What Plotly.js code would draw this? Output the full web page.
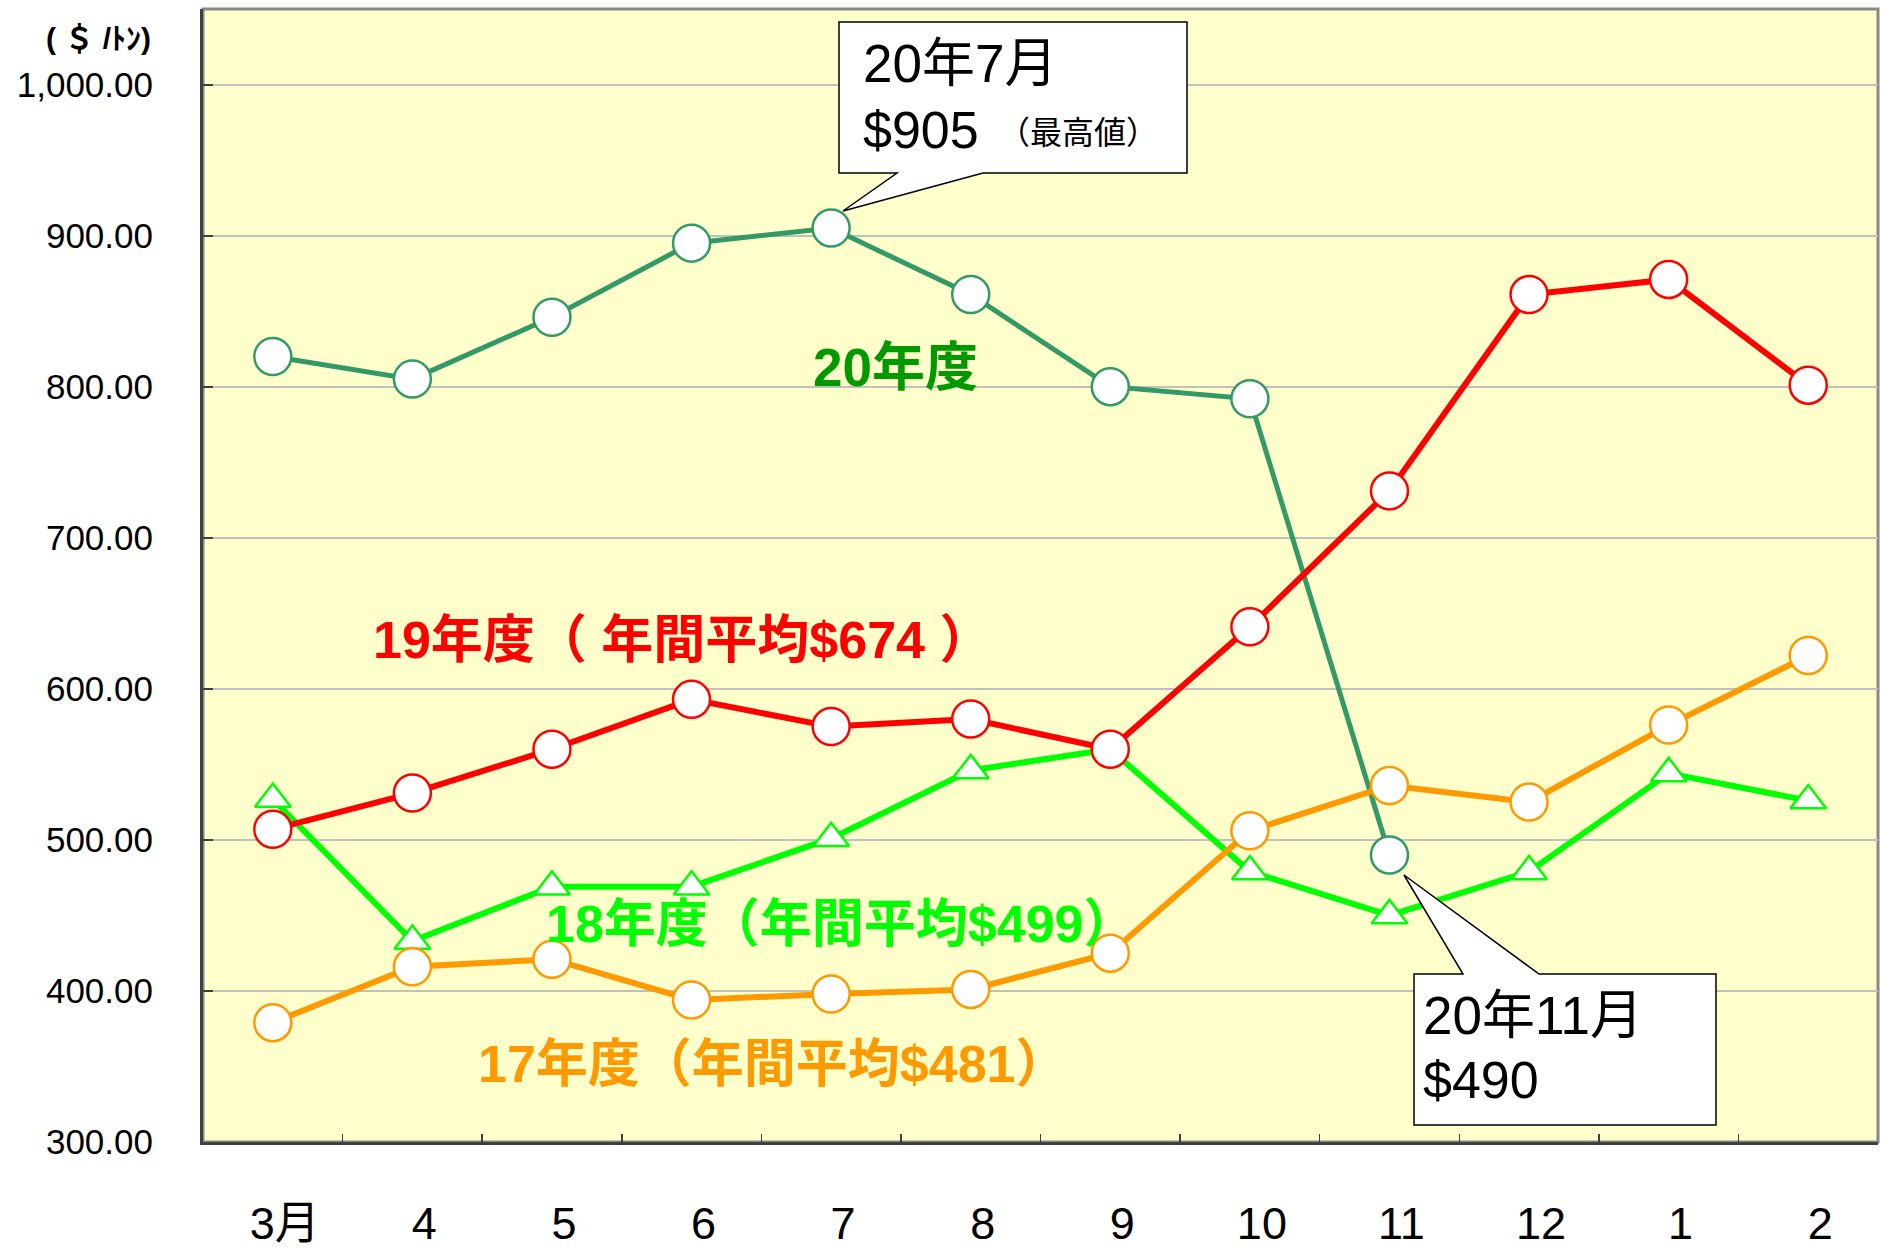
<!DOCTYPE html>
<html>
<head>
<meta charset="utf-8">
<script src="https://cdn.plot.ly/plotly-3.0.1.min.js"></script>
<style>
  html, body { margin: 0; padding: 0; background: #ffffff; }
  #chart { width: 1881px; height: 1249px; }
</style>
</head>
<body>
<div id="chart"></div>
<script>
// ---- data ----
const months = ['3月', '4', '5', '6', '7', '8', '9', '10', '11', '12', '1', '2'];
const fy17 = [379, 416, 421, 394, 398, 401, 425, 506, 536, 525, 576, 622];
const fy18 = [527, 433, 469, 469, 501, 546, 560, 479, 450, 479, 544, 526];
const fy19 = [507, 531, 560, 593, 575, 580, 560, 641, 731, 861, 871, 801];
const fy20 = [820, 805, 846, 895, 905, 861, 800, 792, 490, null, null, null];

const seriesNames = ['18年度', '20年度', '19年度', '17年度'];
const labelTexts = {
  fy20: '20年度',
  fy19: '19年度（ 年間平均$674 ）',
  fy18: '18年度（年間平均$499）',
  fy17: '17年度（年間平均$481）'
};
const unitText = '( ＄ /ﾄﾝ)';
const callout1 = ['20年7月', '$905', '（最高値）'];
const callout2 = ['20年11月', '$490'];

// ---- layout geometry ----
const W = 1881, H = 1249;
const M = { l: 203, r: 3, t: 9, b: 107 };
const PW = W - M.l - M.r, PH = H - M.t - M.b;
const px = x => (x - M.l) / PW;          // pixel -> paper x
const py = y => (H - M.b - y) / PH;      // pixel -> paper y

const FONT = 'Liberation Sans, Arial, Noto Sans CJK JP, sans-serif';

function circleTrace(name, y, color, lw) {
  return {
    type: 'scatter', mode: 'lines+markers', name: name,
    x: months, y: y,
    line: { color: color, width: lw },
    marker: { symbol: 'circle', size: 37, color: '#ffffff', line: { color: color, width: 2.5 } },
    hoverinfo: 'x+y', showlegend: false
  };
}

const traces = [
  {
    type: 'scatter', mode: 'lines+markers', name: seriesNames[0],
    x: months, y: fy18,
    line: { color: '#00ff00', width: 6 },
    marker: { symbol: 'triangle-up', size: 31, color: '#ffffff', line: { color: '#00ff00', width: 2.5 } },
    showlegend: false
  },
  circleTrace(seriesNames[1], fy20, '#339966', 5),
  circleTrace(seriesNames[2], fy19, '#ff0000', 6),
  circleTrace(seriesNames[3], fy17, '#ff9900', 6)
];

function poly(points) {
  return 'M ' + points.map(p => px(p[0]).toFixed(5) + ',' + py(p[1]).toFixed(5)).join(' L ') + ' Z';
}

const shapes = [
  // plot frame (top / right grey border)
  { type: 'rect', xref: 'paper', yref: 'paper', x0: 0, x1: 1, y0: 0, y1: 1,
    line: { color: '#888888', width: 3 }, layer: 'below' },
  // callout 1 (box + wedge)
  { type: 'path', xref: 'paper', yref: 'paper', layer: 'above',
    path: poly([[839, 22], [1187, 22], [1187, 173], [983, 173], [843, 211], [897, 173], [839, 173]]),
    fillcolor: '#ffffff', line: { color: '#000000', width: 1.5 } },
  // callout 2 (box + wedge)
  { type: 'path', xref: 'paper', yref: 'paper', layer: 'above',
    path: poly([[1414, 974], [1463, 974], [1404, 875], [1539, 974], [1716, 974], [1716, 1125], [1414, 1125]]),
    fillcolor: '#ffffff', line: { color: '#000000', width: 1.5 } }
];

function ann(text, x, y, size, color, opts) {
  return Object.assign({
    text: text, xref: 'paper', yref: 'paper', x: px(x), y: py(y),
    xanchor: 'center', yanchor: 'middle', showarrow: false,
    font: { family: FONT, size: size, color: color }
  }, opts || {});
}

const annotations = [
  ann('<b>' + unitText + '</b>', 98, 38, 30, '#000000'),
  ann('<b>' + labelTexts.fy20 + '</b>', 895, 367, 53, '#009900'),
  ann('<b>' + labelTexts.fy19 + '</b>', 682, 640, 52, '#ff0000'),
  ann('<b>' + labelTexts.fy18 + '</b>', 841, 924, 52, '#00ff00'),
  ann('<b>' + labelTexts.fy17 + '</b>', 773, 1064, 52, '#ff9900'),
  ann(callout1[0], 861, 64, 53, '#000000', { xanchor: 'left' }),
  ann(callout1[1], 861, 130, 52, '#000000', { xanchor: 'left' }),
  ann(callout1[2], 996, 133, 32, '#000000', { xanchor: 'left' }),
  ann(callout2[0], 1421, 1015, 53, '#000000', { xanchor: 'left' }),
  ann(callout2[1], 1421, 1080, 52, '#000000', { xanchor: 'left' })
];

const layout = {
  width: W, height: H,
  margin: M,
  paper_bgcolor: '#ffffff',
  plot_bgcolor: '#ffffcc',
  font: { family: FONT, color: '#000000' },
  showlegend: false,
  xaxis: {
    type: 'category',
    range: [-0.5, 11.5],
    showgrid: false,
    showline: true, linecolor: '#404040', linewidth: 3,
    ticks: 'inside', tickson: 'boundaries', ticklen: 8, tickwidth: 1.5, tickcolor: '#404040',
    tickfont: { family: FONT, size: 45, color: '#000000' },
    ticklabelstandoff: 40,
    ticklabelshift: 12,
    zeroline: false, fixedrange: true
  },
  yaxis: {
    range: [300, 1050],
    tick0: 300, dtick: 100,
    tickformat: ',.2f',
    showgrid: true, gridcolor: '#c0c0c0', gridwidth: 2,
    showline: true, linecolor: '#404040', linewidth: 3,
    ticks: 'inside', ticklen: 10, tickwidth: 2, tickcolor: '#404040',
    tickfont: { family: FONT, size: 35, color: '#000000' },
    ticklabelstandoff: 40,
    zeroline: false, fixedrange: true
  },
  shapes: shapes,
  annotations: annotations
};

Plotly.newPlot('chart', traces, layout, { displayModeBar: false, staticPlot: true });
</script>
</body>
</html>
